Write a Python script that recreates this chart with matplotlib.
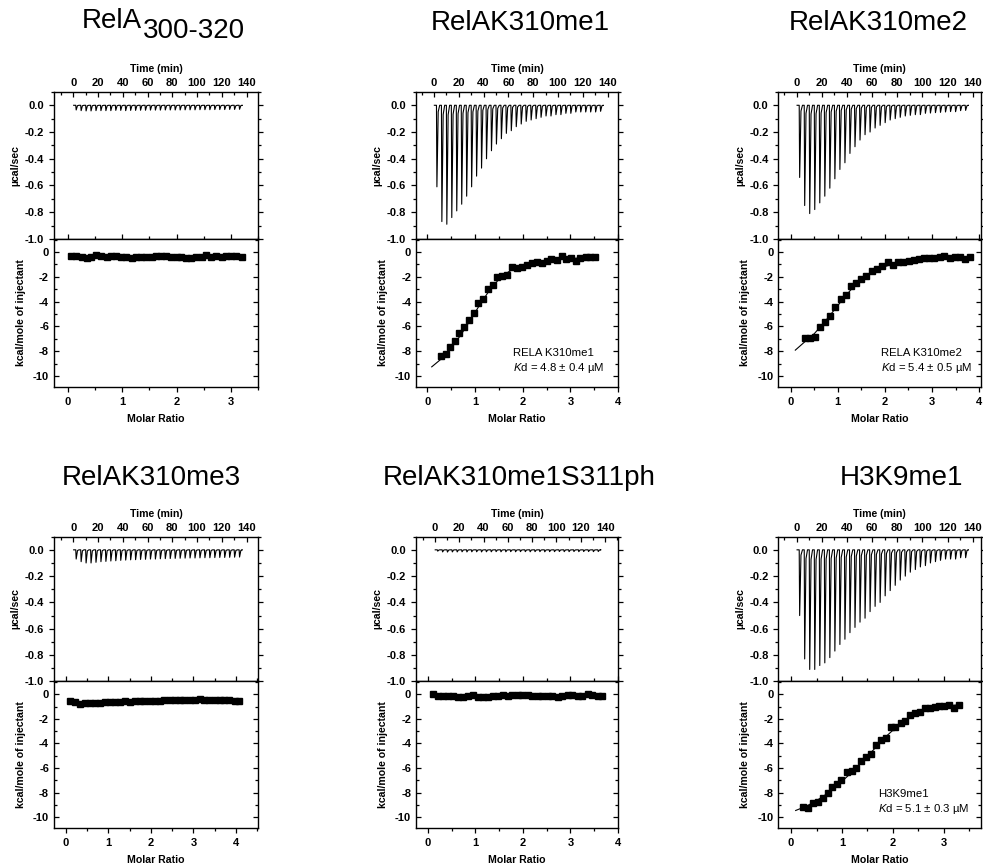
import matplotlib.pyplot as plt
from matplotlib.ticker import MultipleLocator, FormatStrFormatter

plt.rcParams['font.family'] = ['Liberation Sans', 'DejaVu Sans']
plt.rcParams['axes.unicode_minus'] = False
plt.rcParams['mathtext.fontset'] = 'custom'
plt.rcParams['mathtext.rm'] = 'Liberation Sans'
plt.rcParams['mathtext.it'] = 'Liberation Sans:italic'

# injection schedule (min), same for every run
inj_times = [2, 6, 10, 14, 18, 22, 26, 30, 34, 38, 42, 46, 50, 54, 58, 62, 66, 70,
             74, 78, 82, 86, 90, 94, 98, 102, 106, 110, 114, 118, 122, 126, 130, 134]
run_start, run_end = 0.3, 136.5

# raw heat peaks (depth, µcal/sec)
peaks_rela = [0.035, 0.040, 0.042, 0.042, 0.040, 0.040, 0.040, 0.040, 0.038, 0.038, 0.040, 0.038,
              0.038, 0.037, 0.037, 0.036, 0.036, 0.036, 0.035, 0.035, 0.035, 0.035, 0.034, 0.034,
              0.034, 0.033, 0.033, 0.033, 0.032, 0.032, 0.032, 0.031, 0.031, 0.030]
peaks_me1 = [0.61, 0.87, 0.89, 0.84, 0.79, 0.74, 0.68, 0.61, 0.53, 0.47, 0.40, 0.34, 0.29, 0.25,
             0.21, 0.19, 0.16, 0.14, 0.12, 0.11, 0.10, 0.09, 0.08, 0.08, 0.07, 0.07, 0.06, 0.06,
             0.05, 0.05, 0.05, 0.05, 0.05, 0.045]
peaks_me2 = [0.54, 0.75, 0.81, 0.78, 0.73, 0.68, 0.62, 0.55, 0.48, 0.43, 0.36, 0.31, 0.26, 0.22,
             0.20, 0.17, 0.15, 0.13, 0.11, 0.10, 0.09, 0.08, 0.075, 0.07, 0.07, 0.06, 0.058, 0.055,
             0.053, 0.05, 0.047, 0.048, 0.04, 0.038]
peaks_me3 = [0.07, 0.09, 0.10, 0.10, 0.095, 0.09, 0.088, 0.085, 0.083, 0.08, 0.078, 0.076, 0.075,
             0.073, 0.072, 0.07, 0.07, 0.068, 0.067, 0.066, 0.065, 0.064, 0.063, 0.062, 0.062,
             0.061, 0.06, 0.06, 0.059, 0.058, 0.058, 0.057, 0.056, 0.055]
peaks_ph = [0.010, 0.016, 0.017, 0.016, 0.016, 0.015, 0.016, 0.015, 0.015, 0.016, 0.015, 0.015,
            0.014, 0.015, 0.015, 0.014, 0.015, 0.014, 0.014, 0.015, 0.014, 0.014, 0.015, 0.014,
            0.014, 0.013, 0.014, 0.014, 0.013, 0.014, 0.013, 0.013, 0.014, 0.013]
peaks_h3 = [0.50, 0.83, 0.91, 0.91, 0.88, 0.86, 0.82, 0.77, 0.72, 0.68, 0.63, 0.59, 0.55, 0.52,
            0.47, 0.43, 0.40, 0.35, 0.31, 0.27, 0.23, 0.20, 0.17, 0.15, 0.13, 0.12, 0.10, 0.09,
            0.08, 0.07, 0.07, 0.07, 0.06, 0.06]

# integrated heats (kcal/mole of injectant) vs molar ratio
mr_rela = [0.06, 0.15, 0.25, 0.34, 0.43, 0.52, 0.61, 0.71, 0.80, 0.89, 0.98, 1.07, 1.17, 1.26,
           1.35, 1.44, 1.54, 1.63, 1.72, 1.81, 1.90, 2.00, 2.09, 2.18, 2.27, 2.36, 2.46, 2.55,
           2.64, 2.73, 2.83, 2.92, 3.01, 3.10, 3.20]
dh_rela = [-0.30, -0.35, -0.40, -0.46, -0.43, -0.22, -0.30, -0.43, -0.30, -0.35, -0.38, -0.43,
           -0.46, -0.43, -0.43, -0.40, -0.40, -0.35, -0.30, -0.35, -0.40, -0.43, -0.43, -0.46,
           -0.46, -0.43, -0.40, -0.24, -0.40, -0.35, -0.38, -0.35, -0.35, -0.35, -0.40]

mr_me1 = [0.29, 0.39, 0.48, 0.57, 0.67, 0.77, 0.87, 0.97, 1.07, 1.17, 1.27, 1.37, 1.47, 1.57,
          1.67, 1.78, 1.88, 1.99, 2.09, 2.19, 2.29, 2.40, 2.50, 2.60, 2.71, 2.82, 2.91, 3.02,
          3.12, 3.21, 3.32, 3.42, 3.52]
dh_me1 = [-8.41, -8.27, -7.70, -7.16, -6.57, -6.03, -5.49, -4.89, -4.14, -3.78, -3.00, -2.70,
          -2.05, -1.97, -1.89, -1.24, -1.30, -1.19, -1.03, -0.89, -0.81, -0.89, -0.70, -0.57,
          -0.62, -0.35, -0.54, -0.49, -0.76, -0.49, -0.41, -0.41, -0.41]
fitx_me1 = [0.09, 0.3, 0.5, 0.7, 0.9, 1.1, 1.3, 1.5, 1.7, 1.9, 2.1, 2.4, 2.8, 3.2, 3.52]
fity_me1 = [-9.27, -8.6, -7.75, -6.7, -5.5, -4.25, -3.1, -2.2, -1.6, -1.2, -0.95, -0.75, -0.58,
            -0.48, -0.42]

mr_me2 = [0.31, 0.42, 0.52, 0.62, 0.73, 0.83, 0.94, 1.06, 1.17, 1.28, 1.38, 1.50, 1.61, 1.73,
          1.84, 1.94, 2.06, 2.17, 2.28, 2.39, 2.51, 2.61, 2.72, 2.83, 2.94, 3.05, 3.16, 3.26,
          3.38, 3.48, 3.59, 3.70, 3.81]
dh_me2 = [-6.97, -6.92, -6.89, -6.08, -5.62, -5.16, -4.46, -3.81, -3.46, -2.73, -2.51, -2.19,
          -1.97, -1.57, -1.38, -1.16, -0.81, -1.08, -0.78, -0.78, -0.76, -0.62, -0.57, -0.51,
          -0.49, -0.49, -0.43, -0.35, -0.46, -0.41, -0.41, -0.54, -0.41]
fitx_me2 = [0.10, 0.3, 0.5, 0.7, 0.9, 1.1, 1.3, 1.5, 1.7, 1.9, 2.1, 2.4, 2.8, 3.2, 3.85]
fity_me2 = [-7.92, -7.25, -6.6, -5.75, -4.8, -3.85, -2.95, -2.25, -1.7, -1.3, -1.05, -0.82,
            -0.63, -0.52, -0.42]

mr_me3 = [0.09, 0.21, 0.33, 0.44, 0.56, 0.68, 0.80, 0.91, 1.03, 1.15, 1.27, 1.38, 1.50, 1.62,
          1.74, 1.85, 1.97, 2.09, 2.21, 2.32, 2.44, 2.56, 2.68, 2.79, 2.91, 3.03, 3.15, 3.26,
          3.38, 3.50, 3.62, 3.73, 3.85, 3.97, 4.08]
dh_me3 = [-0.52, -0.65, -0.79, -0.74, -0.74, -0.68, -0.68, -0.63, -0.63, -0.65, -0.60, -0.57,
          -0.60, -0.57, -0.54, -0.54, -0.54, -0.52, -0.52, -0.49, -0.49, -0.46, -0.46, -0.44,
          -0.44, -0.44, -0.41, -0.44, -0.44, -0.46, -0.46, -0.49, -0.46, -0.52, -0.57]

mr_ph = [0.10, 0.21, 0.31, 0.42, 0.52, 0.63, 0.73, 0.84, 0.94, 1.05, 1.15, 1.26, 1.36, 1.47,
         1.57, 1.68, 1.78, 1.89, 1.99, 2.10, 2.20, 2.31, 2.41, 2.52, 2.62, 2.73, 2.83, 2.94,
         3.04, 3.15, 3.25, 3.36, 3.46, 3.57, 3.67]
dh_ph = [0.00, -0.11, -0.14, -0.14, -0.16, -0.19, -0.19, -0.14, -0.08, -0.19, -0.25, -0.19,
         -0.14, -0.11, -0.08, -0.11, -0.08, -0.05, -0.03, -0.08, -0.14, -0.11, -0.14, -0.14,
         -0.11, -0.22, -0.16, -0.05, -0.08, -0.11, -0.14, 0.03, -0.08, -0.14, -0.16]

mr_h3 = [0.24, 0.34, 0.44, 0.53, 0.62, 0.72, 0.81, 0.90, 0.99, 1.09, 1.19, 1.28, 1.37, 1.47,
         1.56, 1.66, 1.76, 1.86, 1.96, 2.05, 2.15, 2.24, 2.34, 2.43, 2.53, 2.63, 2.72, 2.82,
         2.91, 3.01, 3.10, 3.20, 3.29]
dh_h3 = [-9.18, -9.26, -8.83, -8.77, -8.45, -8.04, -7.55, -7.33, -7.00, -6.32, -6.27, -5.99,
         -5.45, -5.10, -4.82, -4.14, -3.73, -3.54, -2.70, -2.70, -2.32, -2.18, -1.72, -1.55,
         -1.42, -1.14, -1.09, -1.01, -0.95, -0.95, -0.90, -1.09, -0.87]
fitx_h3 = [0.09, 0.3, 0.5, 0.7, 0.9, 1.1, 1.3, 1.5, 1.7, 1.9, 2.1, 2.3, 2.5, 2.7, 2.9, 3.1, 3.3]
fity_h3 = [-9.45, -9.1, -8.65, -8.1, -7.45, -6.7, -5.9, -5.05, -4.15, -3.3, -2.55, -1.95,
           -1.5, -1.2, -1.02, -0.92, -0.87]

FIG_W, FIG_H = 983, 868
fig = plt.figure(figsize=(9.83, 8.68), dpi=100)

col_left = [0.0549, 0.4232, 0.7918]
col_width = [0.2075, 0.2055, 0.2062]
row_upper = [(0.7247, 0.1694), (0.2151, 0.1666)]
row_lower = [(0.5541, 0.1705), (0.0457, 0.1694)]

TS = 8     # tick labels
LS = 7.6   # axis labels


def style(ax):
    for s in ax.spines.values():
        s.set_linewidth(1.0)
    ax.tick_params(which='both', labelsize=TS, width=0.9)
    ax.tick_params(which='major', length=3.5)
    ax.tick_params(which='minor', length=2)
    for lab in ax.get_xticklabels() + ax.get_yticklabels():
        lab.set_fontweight('bold')


def panel(row, col, peaks, tlim, mr, dh, mlim, fit=None, note=None):
    l, w = col_left[col], col_width[col]
    b1, h1 = row_upper[row]
    b2, h2 = row_lower[row]
    ax1 = fig.add_axes([l, b1, w, h1])
    ax2 = fig.add_axes([l, b2, w, h2])

    # raw thermogram, one sharp dip per injection
    tx, ty = [run_start], [0.0]
    for t, d in zip(inj_times, peaks):
        tx += [t, t + 0.35, t + 1.4, t + 2.6]
        ty += [0.0, -d, -0.08 * d, 0.0]
    tx.append(run_end)
    ty.append(0.0)
    ax1.plot(tx, ty, color='black', lw=0.8)
    ax1.set_xlim(*tlim)
    ax1.set_ylim(-1.0, 0.1)
    ax1.xaxis.set_major_locator(MultipleLocator(20))
    ax1.xaxis.set_minor_locator(MultipleLocator(10))
    ax1.yaxis.set_major_locator(MultipleLocator(0.2))
    ax1.yaxis.set_minor_locator(MultipleLocator(0.1))
    ax1.yaxis.set_major_formatter(FormatStrFormatter('%.1f'))
    ax1.tick_params(axis='x', which='both', top=True, bottom=False, labeltop=True,
                    labelbottom=False, direction='in', pad=3)
    ax1.tick_params(axis='y', which='both', right=True, direction='in')
    ax1.tick_params(axis='y', which='both', left=True, direction='out')
    ax1.xaxis.set_label_position('top')
    ax1.set_xlabel('Time (min)', fontsize=LS, fontweight='bold', labelpad=4)
    ax1.set_ylabel('µcal/sec', fontsize=LS, fontweight='bold', labelpad=3)
    style(ax1)

    # integrated heats
    if fit is not None:
        ax2.plot(fit[0], fit[1], color='black', lw=0.8)
    ax2.plot(mr, dh, 's', color='black', ms=4.3)
    ax2.set_xlim(*mlim)
    ax2.set_ylim(-10.9, 1.05)
    ax2.xaxis.set_major_locator(MultipleLocator(1))
    ax2.xaxis.set_minor_locator(MultipleLocator(0.5))
    ax2.yaxis.set_major_locator(MultipleLocator(2))
    ax2.yaxis.set_minor_locator(MultipleLocator(1))
    ax2.yaxis.set_major_formatter(FormatStrFormatter('%d'))
    ax2.tick_params(axis='x', which='both', top=True, bottom=True, direction='out')
    ax2.tick_params(axis='y', which='both', left=True, direction='out')
    ax2.tick_params(axis='y', which='both', right=True, direction='in')
    ax2.set_xlabel('Molar Ratio', fontsize=LS, fontweight='bold', labelpad=5)
    ax2.set_ylabel('kcal/mole of injectant', fontsize=LS, fontweight='bold', labelpad=5)
    style(ax2)

    if note is not None:
        name, kd, xpos = note
        ax2.text(xpos, -8.15, name, fontsize=8.2, va='center', ha='left')
        ax2.text(xpos, -9.35, '$\\mathit{K}$d = ' + kd, fontsize=8.2, va='center', ha='left')
    return ax1, ax2


panel(0, 0, peaks_rela, (-15.6, 149.2), mr_rela, dh_rela, (-0.26, 3.5))
panel(0, 1, peaks_me1, (-14.5, 148.4), mr_me1, dh_me1, (-0.24, 4.0),
      fit=(fitx_me1, fity_me1), note=('RELA K310me1', '4.8 ± 0.4 µM', 1.8))
panel(0, 2, peaks_me2, (-14.6, 146.6), mr_me2, dh_me2, (-0.26, 4.04),
      fit=(fitx_me2, fity_me2), note=('RELA K310me2', '5.4 ± 0.5 µM', 1.92))
panel(1, 0, peaks_me3, (-15.6, 149.2), mr_me3, dh_me3, (-0.28, 4.52))
panel(1, 1, peaks_ph, (-15.5, 150.6), mr_ph, dh_ph, (-0.25, 4.0))
panel(1, 2, peaks_h3, (-14.6, 146.6), mr_h3, dh_h3, (-0.25, 3.73),
      fit=(fitx_h3, fity_h3), note=('H3K9me1', '5.1 ± 0.3 µM', 1.7))

# panel titles (pixel positions converted to figure fraction)
def ftext(x, y, s, **kw):
    fig.text(x / FIG_W, 1 - y / FIG_H, s, fontsize=20, va='center', **kw)

ftext(142, 21, 'RelA', ha='right')
ftext(143, 31, '300-320', ha='left')
ftext(520, 23, 'RelAK310me1', ha='center')
ftext(878, 23, 'RelAK310me2', ha='center')
ftext(151, 478, 'RelAK310me3', ha='center')
ftext(519, 478, 'RelAK310me1S311ph', ha='center')
ftext(901, 478, 'H3K9me1', ha='center')

fig.savefig('out.png', dpi=100)
